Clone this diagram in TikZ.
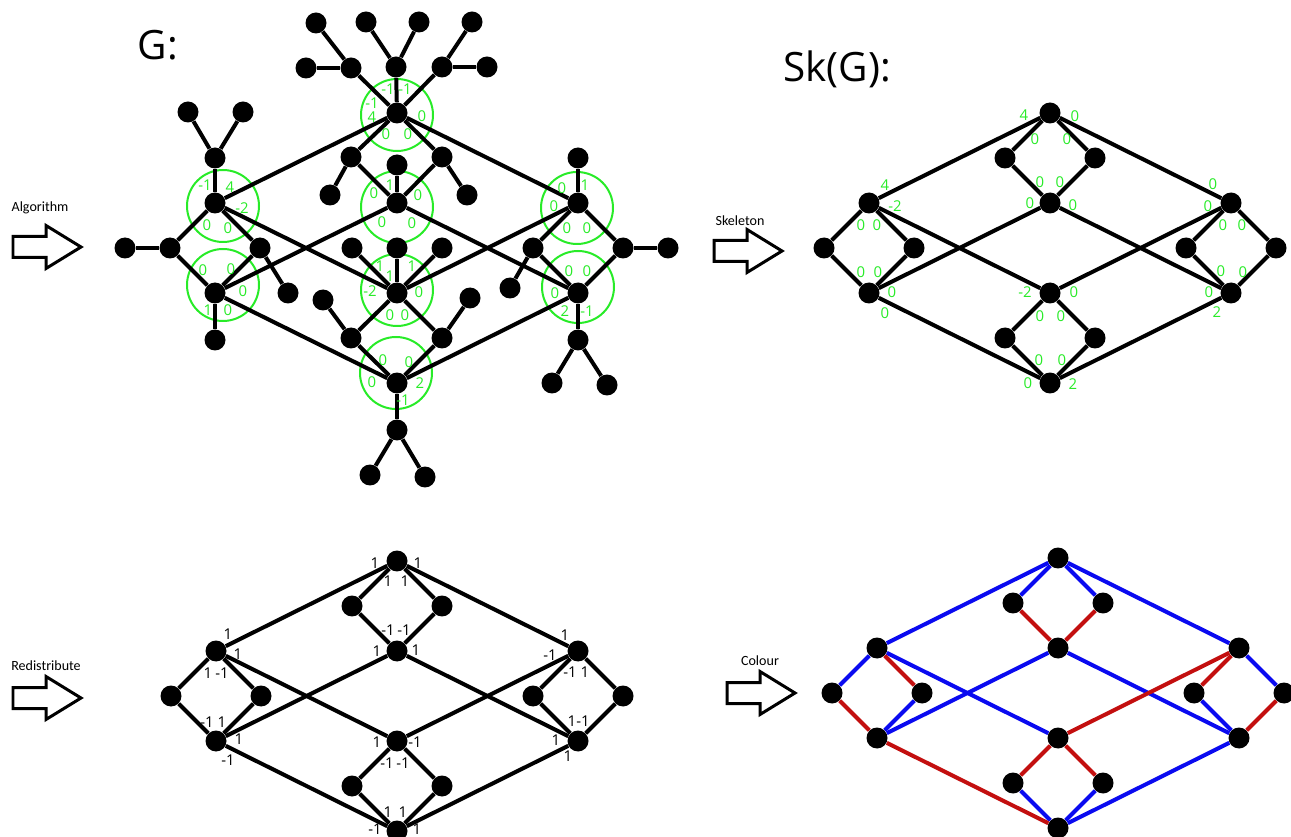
\documentclass[tikz,border=0pt]{standalone}
\usepackage{fontspec}
\setmainfont{Open Sans}
\newfontfamily\calib{Carlito}

\definecolor{lgreen}{RGB}{40,235,40}
\definecolor{cblue}{RGB}{10,10,240}
\definecolor{cred}{RGB}{195,15,15}

\tikzset{
  gdot/.style={circle, fill=black, inner sep=0pt, minimum size=0.42cm},
  link/.style={line width=0.08cm},
  ring/.style={draw=lgreen, line width=0.04cm},
  glab/.style={text=lgreen, font=\fontsize{8.5}{9}\selectfont, inner sep=0pt},
  blab/.style={text=black, font=\fontsize{8.5}{9}\selectfont, inner sep=0pt},
  bigtitle/.style={font=\fontsize{23}{27}\selectfont},
  arrowlab/.style={font=\calib\fontsize{8}{9}\selectfont},
  hollowarrow/.pic={\draw[line width=0.06cm, line join=miter]
    (0,-10.5) -- (33,-10.5) -- (33,-21.5) -- (68,0) -- (33,21.5) -- (33,10.5) -- (0,10.5) -- cycle;}
}

\begin{document}
\begin{tikzpicture}[x=0.02cm, y=-0.02cm]
    \useasboundingbox (0,0) rectangle (1291,837);
    \clip (0,0) rectangle (1291,837);

    % titles and arrows
    \node[bigtitle] (gtitle) at (158,45) {G:};
    \node[bigtitle] (sktitle) at (837,69) {Sk(G):};

    \node[arrowlab] (alg) at (40,208) {Algorithm};
    \node[arrowlab] (skel) at (740,221) {Skeleton};
    \node[arrowlab] (redis) at (46,666) {Redistribute};
    \node[arrowlab] (colr) at (760,661) {Colour};
    \pic at (13,247) {hollowarrow};
    \pic at (714,251) {hollowarrow};
    \pic at (13,698) {hollowarrow};
    \pic at (727,693) {hollowarrow};

    % ---------- G ----------
    \draw[ring] (397,115) circle[radius=36];
    \draw[ring] (397,207) circle[radius=36];
    \draw[ring] (397,290) circle[radius=36];
    \draw[ring] (396,373) circle[radius=36];
    \draw[ring] (223,206) circle[radius=36];
    \draw[ring] (223,285) circle[radius=36];
    \draw[ring] (577,208) circle[radius=36];
    \draw[ring] (578,287) circle[radius=36];

    \node[gdot] (ga) at (397,113) {};
    \node[gdot] (gb) at (397,203) {};
    \node[gdot] (gc) at (397,293) {};
    \node[gdot] (gd) at (397,383) {};
    \node[gdot] (glu) at (215,203) {};
    \node[gdot] (gld) at (215,293) {};
    \node[gdot] (gru) at (578,203) {};
    \node[gdot] (grd) at (578,293) {};
    \node[gdot] (gtl) at (351,157) {};
    \node[gdot] (gtr) at (442,157) {};
    \node[gdot] (gll) at (170,248) {};
    \node[gdot] (glr) at (260,248) {};
    \node[gdot] (grl) at (533,248) {};
    \node[gdot] (grr) at (623,248) {};
    \node[gdot] (gbl) at (351,338) {};
    \node[gdot] (gbr) at (442,338) {};

    \node[gdot] (gu1) at (351,68) {};
    \node[gdot] (gu2) at (396,67) {};
    \node[gdot] (gu3) at (442,67) {};
    \node[gdot] (gu1a) at (316,23) {};
    \node[gdot] (gu1b) at (306,68) {};
    \node[gdot] (gu2a) at (366,22) {};
    \node[gdot] (gu2b) at (419,22) {};
    \node[gdot] (gu3a) at (472,22) {};
    \node[gdot] (gu3b) at (487,67) {};
    \node[gdot] (gtla) at (330,195) {};
    \node[gdot] (gtra) at (467,195) {};
    \node[gdot] (gbup) at (397,165) {};
    \node[gdot] (glup) at (215,158) {};
    \node[gdot] (glupa) at (188,112) {};
    \node[gdot] (glupb) at (243,112) {};
    \node[gdot] (glla) at (125,248) {};
    \node[gdot] (glra) at (288,293) {};
    \node[gdot] (gldn) at (215,340) {};
    \node[gdot] (gca) at (352,248) {};
    \node[gdot] (gcb) at (397,248) {};
    \node[gdot] (gcc) at (442,248) {};
    \node[gdot] (gbla) at (323,300) {};
    \node[gdot] (gbra) at (470,298) {};
    \node[gdot] (gdn) at (397,430) {};
    \node[gdot] (gdna) at (370,475) {};
    \node[gdot] (gdnb) at (425,477) {};
    \node[gdot] (grup) at (578,158) {};
    \node[gdot] (grla) at (510,288) {};
    \node[gdot] (grra) at (668,248) {};
    \node[gdot] (grdn) at (578,340) {};
    \node[gdot] (grdna) at (552,383) {};
    \node[gdot] (grdnb) at (607,385) {};

    \foreach \a/\b in {ga/gu1, ga/gu2, ga/gu3, gu1/gu1a, gu1/gu1b, gu2/gu2a, gu2/gu2b, gu3/gu3a, gu3/gu3b,
        ga/gtl, ga/gtr, ga/glu, ga/gru, gtl/gb, gtr/gb, gtl/gtla, gtr/gtra, gb/gbup, gb/gld, gb/grd,
        glu/glup, glup/glupa, glup/glupb, glu/gll, glu/glr, glu/gc,
        gll/glla, gll/gld, glr/gld, glr/glra, gld/gldn, gld/gd,
        gc/gca, gc/gcb, gc/gcc, gc/gru, gc/gbl, gc/gbr,
        gbl/gbla, gbr/gbra, gbl/gd, gbr/gd, gd/gdn, gdn/gdna, gdn/gdnb,
        gru/grup, gru/grl, gru/grr, grl/grla, grr/grra, grl/grd, grr/grd,
        grd/grdn, grdn/grdna, grdn/grdnb, grd/gd}
      \draw[link] (\a) -- (\b);

    \foreach \x/\y/\t [count=\i] in {388/89/-1, 405/89/-1, 372/103/-1, 372/117/4, 422/116/0, 386/134/0, 408/134/0,
        374/193/0, 390/185/1, 418/195/0, 382/222/0, 412/223/0,
        380/266/1, 390/276/1, 412/266/1, 370/291/-2, 419/292/0, 390/315/0, 405/315/0,
        383/360/0, 409/362/0, 372/382/0, 420/383/2, 403/400/-1,
        205/185/-1, 230/187/4, 242/208/-2, 207/225/0, 228/228/0,
        203/270/0, 231/269/0, 243/291/0, 208/310/1, 228/310/0,
        562/188/0, 585/185/1, 554/206/0, 567/228/0, 587/228/0,
        569/271/0, 587/271/0, 555/293/0, 565/311/2, 587/311/-1}
      \node[glab] (gw\i) at (\x,\y) {\t};

    % ---------- Sk(G), Redistribute, Colour ----------
    \foreach \p/\tx/\ty in {s/1050/113, r/397/561, c/1058/558}
      \foreach \n/\dx/\dy in {t/0/0, tl/-45/45, tr/45/45, tm/0/90, lu/-181/90, ll/-226/135, lr/-136/135,
          ld/-181/180, ru/181/90, rl/136/135, rr/226/135, rd/181/180, bm/0/180, bl/-45/225, br/45/225, b/0/270}
        \node[gdot] (\p\n) at (\tx+\dx,\ty+\dy) {};

    \foreach \p in {s,r}
      \foreach \a/\b in {t/tl, t/tr, tl/tm, tr/tm, t/lu, t/ru, lu/ll, lu/lr, ll/ld, lr/ld, ru/rl, ru/rr, rl/rd, rr/rd,
          lu/bm, ld/tm, tm/rd, bm/ru, ld/b, rd/b, bm/bl, bm/br, bl/b, br/b}
        \draw[link] (\p\a) -- (\p\b);

    \foreach \a/\b in {t/tl, t/tr, t/lu, t/ru, lu/ll, lr/ld, lu/bm, ld/tm, tm/rd, rl/rd, ru/rr, rd/b, bl/b, br/b}
      \draw[link, cblue] (c\a) -- (c\b);
    \foreach \a/\b in {tl/tm, tr/tm, ll/ld, lu/lr, ld/b, bm/ru, bm/bl, bm/br, ru/rl, rr/rd}
      \draw[link, cred] (c\a) -- (c\b);

    % skeleton weights
    \foreach \x/\y/\t [count=\i] in {1024/115/4, 1075/116/0, 1035/139/0, 1067/139/0,
        1040/182/0, 1060/182/0, 1030/203/0, 1073/205/0,
        885/185/4, 895/206/-2, 861/225/0, 877/225/0,
        861/272/0, 878/272/0, 892/292/0, 885/313/0,
        1025/292/-2, 1074/292/0, 1040/316/0, 1061/316/0,
        1039/360/0, 1062/360/0, 1028/383/0, 1073/384/2,
        1213/184/0, 1208/206/0, 1223/225/0, 1242/225/0,
        1221/271/0, 1243/272/0, 1209/292/0, 1217/312/2}
      \node[glab] (sw\i) at (\x,\y) {\t};

    % redistributed weights
    \foreach \x/\y/\t [count=\i] in {375/563/1, 418/563/1, 388/581/1, 405/581/1,
        228/634/1, 238/654/1, 208/673/1, 222/673/-1,
        388/630/-1, 404/630/-1, 377/651/1, 416/650/1,
        207/722/-1, 222/722/1, 239/739/1, 228/760/-1,
        377/742/1, 415/742/-1, 387/763/-1, 403/763/-1,
        388/812/1, 403/812/1, 375/829/-1, 417/829/1,
        565/635/1, 550/655/-1, 570/672/-1, 585/672/1,
        572/721/1, 583/721/-1, 556/740/1, 568/756/1}
      \node[blab] (rw\i) at (\x,\y) {\t};
\end{tikzpicture}
\end{document}
